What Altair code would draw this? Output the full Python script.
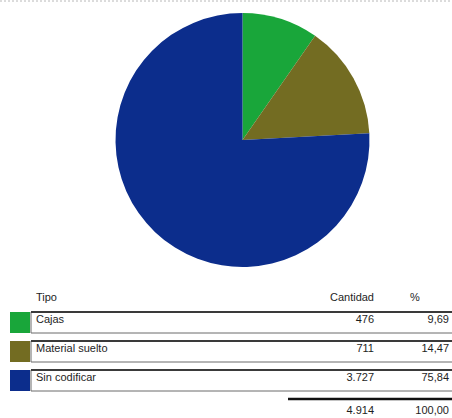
import altair as alt
import pandas as pd

tipos = ["Cajas", "Material suelto", "Sin codificar"]
cantidades = [476, 711, 3727]
colores = ["#19a63a", "#736c22", "#0c2d8c"]
encabezados = ["Tipo", "Cantidad", "%"]

total = sum(cantidades)
pcts = [c / total * 100 for c in cantidades]


def fmt_int(v):
    return f"{v:,}".replace(",", ".")


def fmt_pct(v):
    return f"{v:.2f}".replace(".", ",")


df = pd.DataFrame({
    "tipo": tipos,
    "cantidad": cantidades,
    "fila": list(range(len(tipos))),
    "cant_txt": [fmt_int(c) for c in cantidades],
    "pct_txt": [fmt_pct(p) for p in pcts],
})
one = pd.DataFrame({
    "h_tipo": [encabezados[0]],
    "h_cant": [encabezados[1]],
    "h_pct": [encabezados[2]],
    "t_cant": [fmt_int(total)],
    "t_pct": [fmt_pct(100)],
})

FONT = "Liberation Sans"
TXT = "#1e1e1e"
color_scale = alt.Scale(domain=tipos, range=colores)
yrow = alt.Y("fila:Q", scale=alt.Scale(domain=[0, 2], range=[320, 378]), axis=None)

base = alt.Chart(df)
single = alt.Chart(one)

top_line = single.mark_rule(color="#b8b8b8", strokeDash=[2, 2], strokeWidth=1).encode(
    x=alt.value(0), x2=alt.value(452), y=alt.value(1)
)

pie = base.mark_arc(outerRadius=127).encode(
    theta=alt.Theta("cantidad:Q", stack=True),
    color=alt.Color("tipo:N", scale=color_scale, legend=None),
    order=alt.Order("fila:Q"),
    x=alt.value(242.5),
    y=alt.value(140),
)

boxes = base.mark_rect(height=21, fill="white", stroke="#6a6a6a", strokeWidth=1).encode(
    x=alt.value(31), x2=alt.value(454), y=yrow, yOffset=alt.value(2.5)
)

box_tops = base.mark_rule(color="#3a3a3a", strokeWidth=2).encode(
    x=alt.value(31), x2=alt.value(452), y=yrow, yOffset=alt.value(-8)
)

swatches = base.mark_rect(height=21).encode(
    x=alt.value(10), x2=alt.value(30), y=yrow, yOffset=alt.value(2.5),
    color=alt.Color("tipo:N", scale=color_scale, legend=None),
)

txt_kw = dict(font=FONT, fontSize=11, color=TXT, baseline="middle")

tipo_txt = base.mark_text(align="left", **txt_kw).encode(
    x=alt.value(36), y=yrow, text="tipo:N"
)
cant_txt = base.mark_text(align="right", **txt_kw).encode(
    x=alt.value(374), y=yrow, text="cant_txt:N"
)
pct_txt = base.mark_text(align="right", **txt_kw).encode(
    x=alt.value(449), y=yrow, text="pct_txt:N"
)

h_tipo = single.mark_text(align="left", **txt_kw).encode(
    x=alt.value(36), y=alt.value(298), text="h_tipo:N"
)
h_cant = single.mark_text(align="right", **txt_kw).encode(
    x=alt.value(374), y=alt.value(298), text="h_cant:N"
)
h_pct = single.mark_text(align="center", **txt_kw).encode(
    x=alt.value(415), y=alt.value(298), text="h_pct:N"
)

total_rule = single.mark_rule(color="#111111", strokeWidth=2.5).encode(
    x=alt.value(288), x2=alt.value(452), y=alt.value(399)
)

t_cant = single.mark_text(align="right", **txt_kw).encode(
    x=alt.value(374), y=alt.value(411), text="t_cant:N"
)
t_pct = single.mark_text(align="right", **txt_kw).encode(
    x=alt.value(449), y=alt.value(411), text="t_pct:N"
)

chart = alt.layer(
    top_line, pie, boxes, box_tops, swatches, tipo_txt, cant_txt, pct_txt,
    h_tipo, h_cant, h_pct, total_rule, t_cant, t_pct,
).properties(
    width=452, height=418, autosize=alt.AutoSizeParams(type="none"), padding=0,
    background="white",
).configure_view(stroke=None)

chart.save("out.html", embed_options={"renderer": "svg", "actions": False})
